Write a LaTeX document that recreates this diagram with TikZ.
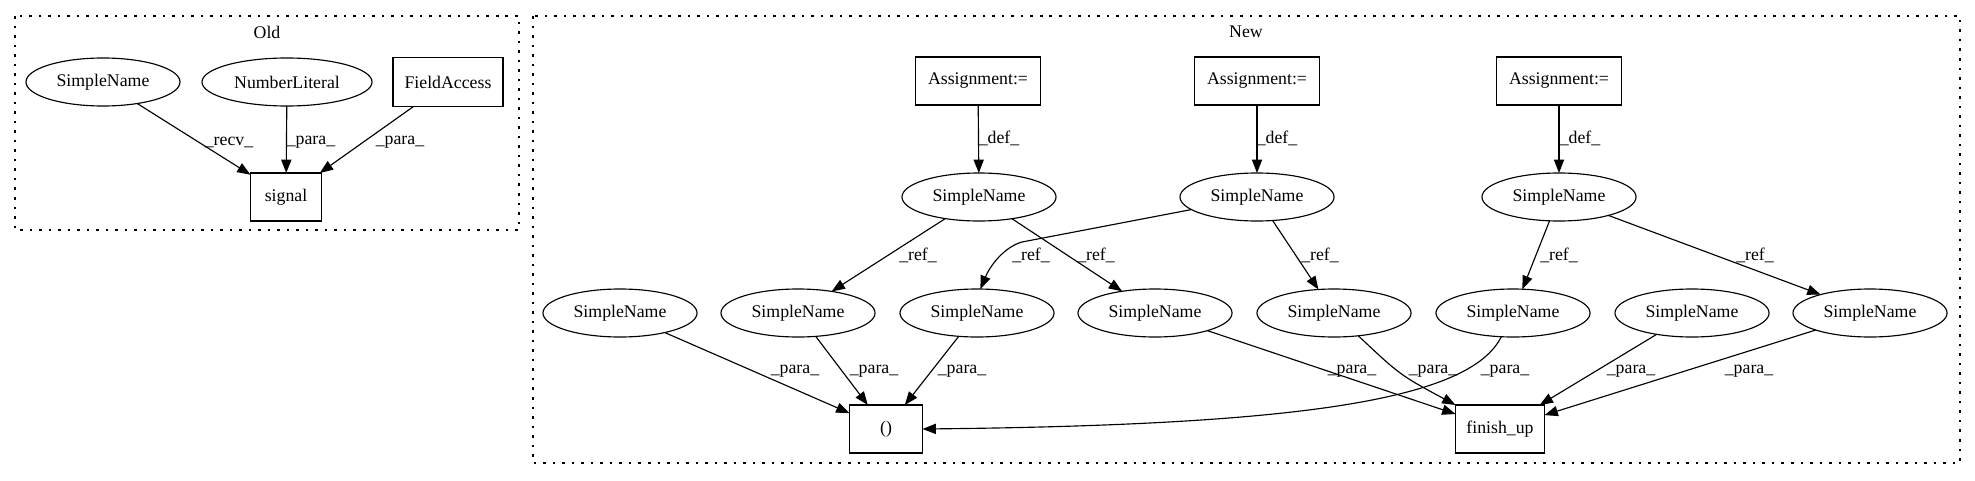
\documentclass[tikz,border=0pt]{standalone}
\usepackage{fontspec}
\setmainfont{Liberation Serif}
\usetikzlibrary{shapes.geometric,arrows.meta}
\begin{document}
\begin{tikzpicture}[x=0.7874pt,y=-0.7874pt,
  font=\fontsize{14pt}{16pt}\selectfont,
  every node/.style={inner sep=0pt, outer sep=0pt},
  sn/.style={draw, ellipse, line width=0.9pt, minimum width=121.3pt, minimum height=37.8pt},
  bx/.style={draw, rectangle, line width=0.9pt, minimum height=37.8pt},
  conn/.style={draw, line width=0.9pt, -{Triangle[length=10.5pt,width=8pt]}},
  cluster/.style={draw, line width=0.9pt, dash pattern=on 2pt off 5.5pt},
  lbl/.style={}
]
\useasboundingbox (0,0) rectangle (1975,480);

% clusters
\draw[cluster] (15,16) rectangle (519,230);
\draw[cluster] (533,16) rectangle (1960,463);
\node (oldt) at (267,32) {Old};
\node (newt) at (1246,32) {New};

% Old
\node[sn] (os) at (103,82) {SimpleName};
\node[sn, minimum width=133.9pt] (onl) at (287,82) {NumberLiteral};
\node[bx, minimum width=86.6pt, minimum height=38.6pt] (ofa) at (448,82) {FieldAccess};
\node[bx, minimum width=55.9pt] (osig) at (286,197) {signal};

\draw[conn] (os) -- (osig);
\draw[conn] (onl) -- (osig);
\draw[conn] (ofa) -- (osig);
\node[lbl] (l1) at (229,142) {\_recv\_};
\node[lbl] (l2) at (311,142) {\_para\_};
\node[lbl] (l3) at (400,142) {\_para\_};

% New
\node[bx, minimum width=98.4pt] (a1) at (978,81) {Assignment:=};
\node[bx, minimum width=98.4pt] (a2) at (1257,81) {Assignment:=};
\node[bx, minimum width=98.4pt] (a3) at (1559,81) {Assignment:=};

\node[sn] (sa) at (979,197) {SimpleName};
\node[sn] (sb) at (1257,197) {SimpleName};
\node[sn] (sc) at (1559,197) {SimpleName};

\node[sn] (n1) at (620,313) {SimpleName};
\node[sn] (n2) at (798,313) {SimpleName};
\node[sn] (n3) at (977,313) {SimpleName};
\node[sn] (n4) at (1155,313) {SimpleName};
\node[sn] (n5) at (1334,313) {SimpleName};
\node[sn] (n6) at (1513,313) {SimpleName};
\node[sn] (n7) at (1692,313) {SimpleName};
\node[sn] (n8) at (1870,313) {SimpleName};

\node[bx, minimum width=57.5pt] (paren) at (886,429) {()};
\node[bx, minimum width=70.1pt] (fin) at (1500,429) {finish\_up};

% def edges
\draw[conn] (a1) -- (sa);
\draw[conn] (a2) -- (sb);
\draw[conn] (a3) -- (sc);
\node[lbl] (d1) at (999,138) {\_def\_};
\node[lbl] (d2) at (1277,138) {\_def\_};
\node[lbl] (d3) at (1580,138) {\_def\_};

% ref edges
\draw[conn] (sa) -- (n2);
\draw[conn] (sa) -- (n4);
\draw[conn] (sb) -- (1022,242) .. controls (1004,247) and (990,266) .. (n3.82);
\draw[conn] (sb) -- (n5);
\draw[conn] (sc) -- (n6);
\draw[conn] (sc) -- (n8);
\node[lbl] (r1) at (918,255) {\_ref\_};
\node[lbl] (r2) at (1031,255) {\_ref\_};
\node[lbl] (r3) at (1096,255) {\_ref\_};
\node[lbl] (r4) at (1320,255) {\_ref\_};
\node[lbl] (r5) at (1559,255) {\_ref\_};
\node[lbl] (r6) at (1755,255) {\_ref\_};

% para edges
\draw[conn] (n1) -- (paren);
\draw[conn] (n2) -- (paren);
\draw[conn] (n3) -- (paren);
\draw[conn] (n6) .. controls (1470,400) and (1300,425) .. (paren.east);
\draw[conn] (n4) -- (fin);
\draw[conn] (n5) .. controls (1400,375) .. (fin.north west);
\draw[conn] (n7) -- (fin);
\draw[conn] (n8) -- (fin);
\node[lbl] (p1) at (795,371) {\_para\_};
\node[lbl] (p2) at (874,371) {\_para\_};
\node[lbl] (p3) at (962,371) {\_para\_};
\node[lbl] (p4) at (1352,371) {\_para\_};
\node[lbl] (p5) at (1433,371) {\_para\_};
\node[lbl] (p6) at (1505,371) {\_para\_};
\node[lbl] (p7) at (1631,371) {\_para\_};
\node[lbl] (p8) at (1749,371) {\_para\_};
\end{tikzpicture}
\end{document}
